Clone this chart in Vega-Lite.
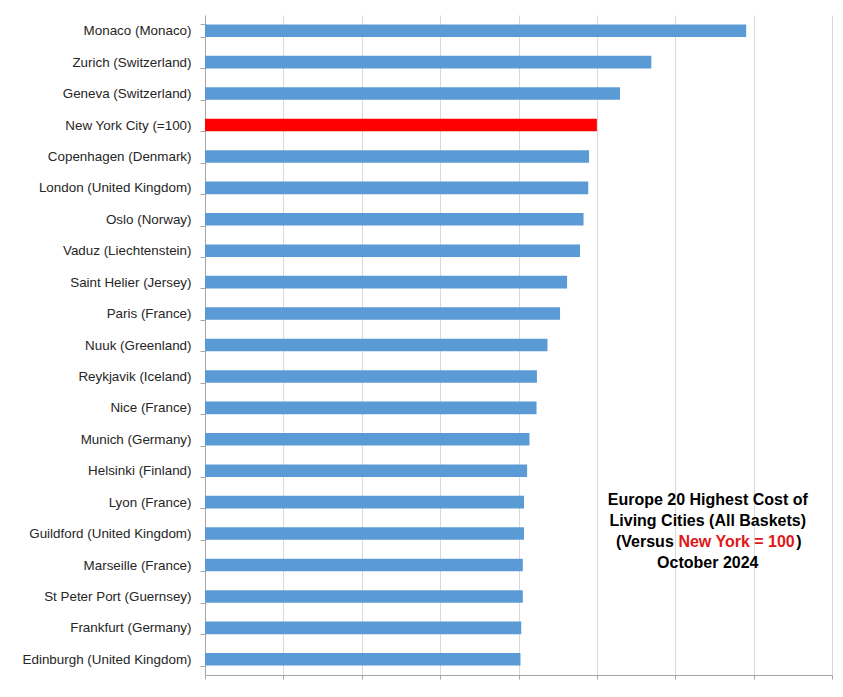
{
  "$schema": "https://vega.github.io/schema/vega-lite/v6.json",
  "width": 627,
  "height": 660,
  "autosize": "none",
  "padding": {"left": 205, "top": 15, "right": 11, "bottom": 22},
  "background": "white",
  "config": {"view": {"stroke": null}, "font": "Liberation Sans"},
  "data": {
    "values": [
      {"city": "Monaco (Monaco)", "value": 138.1},
      {"city": "Zurich (Switzerland)", "value": 113.9},
      {"city": "Geneva (Switzerland)", "value": 105.9},
      {"city": "New York City (=100)", "value": 100},
      {"city": "Copenhagen (Denmark)", "value": 98.0},
      {"city": "London (United Kingdom)", "value": 97.8},
      {"city": "Oslo (Norway)", "value": 96.6},
      {"city": "Vaduz (Liechtenstein)", "value": 95.7},
      {"city": "Saint Helier (Jersey)", "value": 92.4},
      {"city": "Paris (France)", "value": 90.6},
      {"city": "Nuuk (Greenland)", "value": 87.4},
      {"city": "Reykjavik (Iceland)", "value": 84.7},
      {"city": "Nice (France)", "value": 84.6},
      {"city": "Munich (Germany)", "value": 82.8},
      {"city": "Helsinki (Finland)", "value": 82.2},
      {"city": "Lyon (France)", "value": 81.4},
      {"city": "Guildford (United Kingdom)", "value": 81.4},
      {"city": "Marseille (France)", "value": 81.1},
      {"city": "St Peter Port (Guernsey)", "value": 81.1},
      {"city": "Frankfurt (Germany)", "value": 80.7},
      {"city": "Edinburgh (United Kingdom)", "value": 80.5}
    ]
  },
  "layer": [
    {
      "mark": {"type": "bar"},
      "encoding": {
        "y": {
          "field": "city",
          "type": "nominal",
          "sort": null,
          "scale": {"paddingInner": 0.6, "paddingOuter": 0.3},
          "axis": {
            "title": null,
            "labelFont": "Liberation Sans",
            "labelFontSize": 13.4,
            "labelColor": "#262626",
            "labelPadding": 9,
            "tickSize": 5,
            "tickBand": "extent",
            "tickColor": "#a6a6a6",
            "domainColor": "#a6a6a6"
          }
        },
        "x": {
          "field": "value",
          "type": "quantitative",
          "scale": {"domain": [0, 160], "nice": false},
          "axis": {
            "title": null,
            "labels": false,
            "values": [0, 20, 40, 60, 80, 100, 120, 140, 160],
            "grid": true,
            "gridColor": "#d9d9d9",
            "tickSize": 4,
            "tickColor": "#a6a6a6",
            "domainColor": "#a6a6a6"
          }
        },
        "color": {
          "condition": {"test": "datum.city === 'New York City (=100)'", "value": "#ff0000"},
          "value": "#5b9bd5"
        }
      }
    },
    {
      "data": {"values": [{"t": ["Europe 20 Highest Cost of", "Living Cities (All Baskets)"]}]},
      "mark": {"type": "text", "font": "Liberation Sans", "fontWeight": "bold", "fontSize": 16, "lineHeight": 21, "align": "center", "baseline": "middle", "dy": -34, "color": "#000000"},
      "encoding": {
        "text": {"field": "t"},
        "x": {"datum": 128.3, "type": "quantitative"},
        "y": {"datum": "Guildford (United Kingdom)", "type": "nominal"}
      }
    },
    {
      "data": {"values": [{"t": "October 2024"}]},
      "mark": {"type": "text", "font": "Liberation Sans", "fontWeight": "bold", "fontSize": 16, "align": "center", "baseline": "middle", "dy": 29, "color": "#000000"},
      "encoding": {
        "text": {"field": "t"},
        "x": {"datum": 128.3, "type": "quantitative"},
        "y": {"datum": "Guildford (United Kingdom)", "type": "nominal"}
      }
    },
    {
      "data": {"values": [{"t": "(Versus"}]},
      "mark": {"type": "text", "font": "Liberation Sans", "fontWeight": "bold", "fontSize": 16, "align": "right", "baseline": "middle", "dx": -34, "dy": 8, "color": "#000000"},
      "encoding": {
        "text": {"field": "t"},
        "x": {"datum": 128.3, "type": "quantitative"},
        "y": {"datum": "Guildford (United Kingdom)", "type": "nominal"}
      }
    },
    {
      "data": {"values": [{"t": "New York = 100"}]},
      "mark": {"type": "text", "font": "Liberation Sans", "fontWeight": "bold", "fontSize": 16, "align": "center", "baseline": "middle", "dx": 28.8, "dy": 8, "color": "#e01818"},
      "encoding": {
        "text": {"field": "t"},
        "x": {"datum": 128.3, "type": "quantitative"},
        "y": {"datum": "Guildford (United Kingdom)", "type": "nominal"}
      }
    },
    {
      "data": {"values": [{"t": ")"}]},
      "mark": {"type": "text", "font": "Liberation Sans", "fontWeight": "bold", "fontSize": 16, "align": "left", "baseline": "middle", "dx": 88.5, "dy": 8, "color": "#000000"},
      "encoding": {
        "text": {"field": "t"},
        "x": {"datum": 128.3, "type": "quantitative"},
        "y": {"datum": "Guildford (United Kingdom)", "type": "nominal"}
      }
    }
  ]
}
